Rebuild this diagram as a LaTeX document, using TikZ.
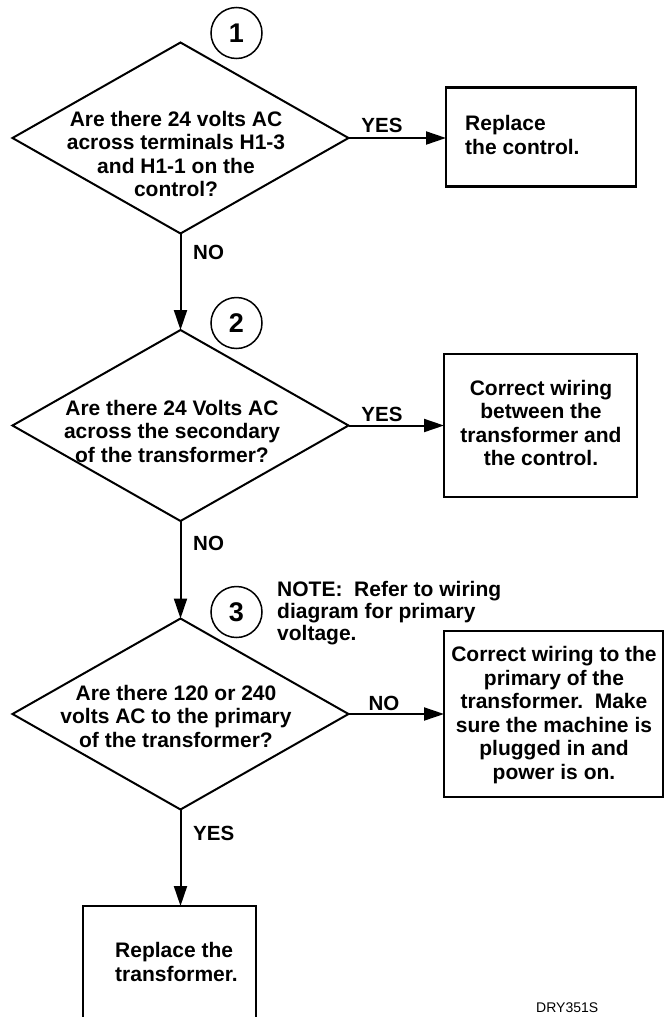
\documentclass[tikz,border=0pt]{standalone}
\usepackage{fontspec}
\setmainfont{Liberation Sans}
\usetikzlibrary{shapes.geometric,arrows.meta}
\begin{document}
\begin{tikzpicture}[x=1pt,y=-1pt,
  txt/.style={font=\fontsize{21}{23.5}\selectfont\bfseries,inner sep=0pt},
  lbl/.style={font=\fontsize{20.5}{23}\selectfont\bfseries,inner sep=0pt},
  dia/.style={draw,shape=diamond,line width=2pt,minimum width=336pt,minimum height=191pt,inner sep=0pt,outer sep=0pt},
  boxx/.style={draw,rectangle,line width=2.4pt,inner sep=0pt,outer sep=0pt},
  num/.style={draw,circle,line width=1.5pt,minimum size=51pt,inner sep=0pt,font=\fontsize{27}{27}\selectfont\bfseries},
  conn/.style={line width=2pt,-{Triangle[length=20pt,width=13pt]}}]
\useasboundingbox (0,0) rectangle (665,1017);
\clip (0,0) rectangle (665,1017);
% decisions
\node[dia] (d1) at (180.5,138) {};
\node[dia] (d2) at (180.5,425.5) {};
\node[dia] (d3) at (180.5,714) {};
\node[txt,align=center] (d1t) at (176,154) {Are there 24 volts AC\\across terminals H1-3\\and H1-1 on the\\control?};
\node[txt,align=center] (d2t) at (172,431) {Are there 24 Volts AC\\across the secondary\\of the transformer?};
\node[txt,align=center] (d3t) at (176,716) {Are there 120 or 240\\volts AC to the primary\\of the transformer?};
% numbers
\node[num] (n1) at (236.5,33) {1};
\node[num] (n2) at (236.5,323) {2};
\node[num] (n3) at (236.5,612) {3};
% boxes
\node[boxx,minimum width=190pt,minimum height=99pt] (b1) at (541,137) {};
\node[boxx,minimum width=193pt,minimum height=143pt] (b2) at (540.5,425.5) {};
\node[boxx,minimum width=219pt,minimum height=166pt] (b3) at (553.5,714) {};
\node[boxx,minimum width=173pt,minimum height=130pt] (b4) at (169.5,971) {};
\node[txt,align=left,anchor=west] (b1t) at (465,135) {Replace\\the control.};
\node[txt,align=center] (b2t) at (541,423) {Correct wiring\\between the\\transformer and\\the control.};
\node[txt,align=center] (b3t) at (554,715) {Correct wiring to the\\primary of the\\transformer.\ \ Make\\sure the machine is\\plugged in and\\power is on.};
\node[txt,align=left,anchor=west] (b4t) at (115,962) {Replace the\\transformer.};
% note
\node[txt,align=left,anchor=west,font=\fontsize{21}{22}\selectfont\bfseries] (note) at (277,613) {NOTE:\ \ Refer to wiring\\diagram for primary\\voltage.};
% connectors
\draw[conn] (d1.east) -- (b1.west |- d1.east);
\draw[conn] (d1.south) -- (d2.north);
\draw[conn] (d2.east) -- (b2.west |- d2.east);
\draw[conn] (d2.south) -- (d3.north);
\draw[conn] (d3.east) -- (b3.west |- d3.east);
\draw[conn] (d3.south) -- (d3.south |- b4.north);
% labels
\node[lbl] (y1) at (382,125) {YES};
\node[lbl,anchor=west] (no1) at (193,252) {NO};
\node[lbl] (y2) at (382,414) {YES};
\node[lbl,anchor=west] (no2) at (193,543) {NO};
\node[lbl] (no3) at (384,703) {NO};
\node[lbl,anchor=west] (y3) at (193,833) {YES};
\node[anchor=base west,inner sep=0pt,font=\fontsize{14}{15}\selectfont] (id) at (536,1012) {DRY351S};
\end{tikzpicture}
\end{document}
